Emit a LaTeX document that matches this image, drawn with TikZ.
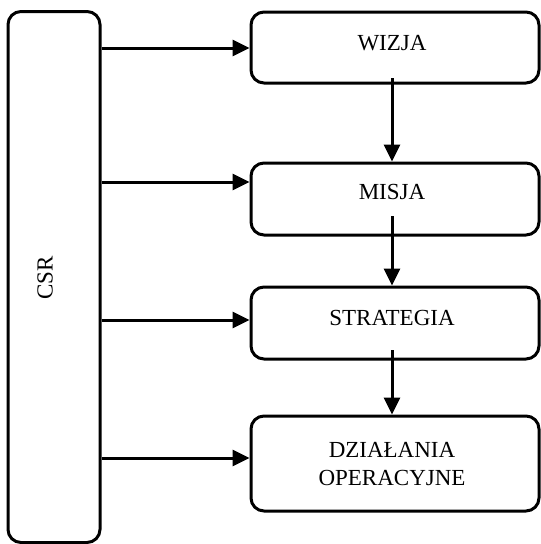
\documentclass[tikz,border=0pt]{standalone}
\usepackage{fontspec}
\setmainfont{Liberation Serif}
\usetikzlibrary{arrows.meta}
\begin{document}
\begin{tikzpicture}[x=1pt,y=-1pt,
  box/.style={draw,line width=3pt,rounded corners=13pt,inner sep=0pt},
  txt/.style={font=\fontsize{23}{28}\selectfont,align=center,inner sep=0pt},
  arr/.style={line width=3pt,-{Triangle[length=17pt,width=16pt]}}]
\useasboundingbox (0,0) rectangle (541,544);
\node[box,minimum width=92pt,minimum height=531pt] (csr) at (54,277) {};
\node[txt,rotate=90] (csrt) at (45,278) {CSR};
\node[box,minimum width=288pt,minimum height=71pt] (wizja) at (395,47.5) {};
\node[txt] (wizjat) at (392,43) {WIZJA};
\node[box,minimum width=288pt,minimum height=72pt] (misja) at (395,199) {};
\node[txt] (misjat) at (392,192) {MISJA};
\node[box,minimum width=288pt,minimum height=72pt] (strat) at (395,323) {};
\node[txt] (stratt) at (392,318) {STRATEGIA};
\node[box,minimum width=288pt,minimum height=95pt] (dzial) at (395,463.5) {};
\node[txt] (dzialt) at (392,464) {DZIAŁANIA\\OPERACYJNE};
\draw[arr] (csr.east |- 0,48) -- (wizja.west |- 0,48);
\draw[arr] (csr.east |- 0,182) -- (misja.west |- 0,182);
\draw[arr] (csr.east |- 0,320) -- (strat.west |- 0,320);
\draw[arr] (csr.east |- 0,458) -- (dzial.west |- 0,458);
\draw[arr] (392,78) -- (misja.north -| 392,0);
\draw[arr] (392,216) -- (strat.north -| 392,0);
\draw[arr] (392,350) -- (dzial.north -| 392,0);
\end{tikzpicture}
\end{document}
